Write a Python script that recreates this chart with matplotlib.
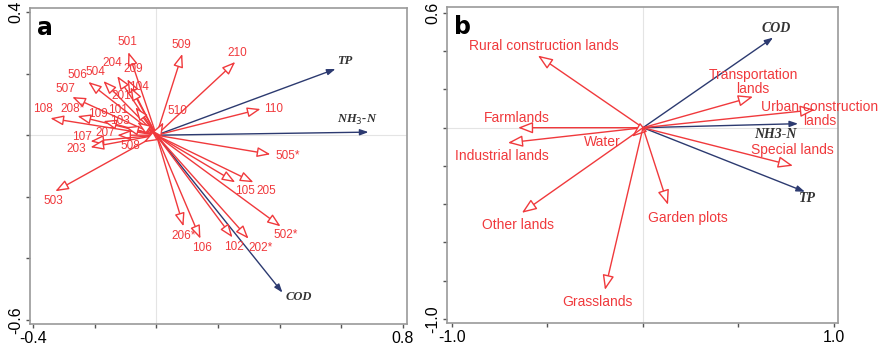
import matplotlib
matplotlib.use('Agg')
import matplotlib.pyplot as plt
import numpy as np

# panel a: sampling sites (species scores) and water quality variables
site_names = ['501', '509', '210', '110', '505*', '105', '205', '503', '502*', '206*',
              '106', '102', '202*', '204', '209', '506', '504', '104', '507', '201',
              '108', '208*', '109', '101', '103', '207', '107', '203', '508', '510']
site_x = [-0.091, 0.084, 0.256, 0.338, 0.370, 0.256, 0.315, -0.328, 0.403, 0.088,
          0.143, 0.247, 0.299, -0.127, -0.094, -0.221, -0.172, -0.084, -0.273, -0.068,
          -0.344, -0.256, -0.172, -0.062, -0.101, -0.127, -0.214, -0.214, -0.042, 0.023]
site_y = [0.270, 0.264, 0.238, 0.085, -0.062, -0.153, -0.153, -0.182, -0.296, -0.296,
          -0.336, -0.332, -0.336, 0.192, 0.182, 0.173, 0.176, 0.156, 0.124, 0.091,
          0.055, 0.062, 0.046, 0.042, 0.026, 0.000, -0.020, -0.039, -0.023, 0.042]
env_a_names = ['TP', r'NH$_3$-N', 'COD']
env_a_x = [0.581, 0.688, 0.409]
env_a_y = [0.215, 0.010, -0.511]

# panel b: land use types and water quality variables
land_names = ['Rural construction lands', 'Transportation\nlands', 'Urban construction\nlands',
              'Farmlands', 'Industrial lands', 'Water', 'Special lands', 'Other lands',
              'Garden plots', 'Grasslands']
land_x = [-0.550, 0.576, 0.900, -0.654, -0.707, -0.058, 0.785, -0.634, 0.131, -0.199]
land_y = [0.377, 0.162, 0.094, 0.000, -0.079, -0.047, -0.199, -0.445, -0.403, -0.848]
env_b_names = ['COD', 'NH3-N', 'TP']
env_b_x = [0.681, 0.812, 0.848]
env_b_y = [0.471, 0.021, -0.335]

# label offsets in pixels (layout only)
site_off = [(-1, 10), (-1, 9), (2, 9), (13, 0), (17, -2), (10, -9), (13, -9), (-2, -10), (5, -9), (0, -10),
            (2, -9), (1, -10), (12, -9), (-5, 13), (6, 10), (-11, 7), (-8, 9), (8, 0), (-7, 8), (-14, 11),
            (-7, 9), (-5, 7), (-5, 7), (-19, 12), (-5, 6), (-12, 2), (-8, 4), (-14, -2), (-13, -4), (14, 11)]
env_a_off = [(9, 8), (-11, 12), (16, -4)]
land_off = [(6, 10), (0, 15), (5, -4), (-1, 10), (-6, -13), (-30, -5), (-1, 16), (-4, -12), (20, -13), (-8, -12)]
env_b_off = [(3, 9), (-23, -11), (3, -7)]

RED = '#f0393c'
BLUE = '#2c3a70'
plt.rcParams['font.family'] = ['Liberation Sans', 'DejaVu Sans']

fig = plt.figure(figsize=(8.82, 3.5), dpi=100)
ax1 = fig.add_axes([30 / 882, 1 - 324 / 350, 377 / 882, 316 / 350])
ax2 = fig.add_axes([447 / 882, 1 - 323 / 350, 391 / 882, 316 / 350])


def draw_vectors(ax, xs, ys, names, offs, color, hollow, fs, serif=False, hl=0.7, hw=0.3):
    for x, y, name, off in zip(xs, ys, names, offs):
        if hollow:
            style = f'-|>,head_length={hl},head_width={hw}'
            props = dict(arrowstyle=style, color=RED, fc='white', lw=1.0, shrinkA=0, shrinkB=0)
        else:
            style = '-|>,head_length=0.5,head_width=0.18'
            props = dict(arrowstyle=style, color=color, fc=color, lw=1.0, shrinkA=0, shrinkB=0)
        ax.annotate('', xy=(x, y), xytext=(0, 0), arrowprops=props, zorder=3)
        if serif:
            ax.annotate(name, xy=(x, y), xytext=off, textcoords='offset pixels', ha='center', va='center',
                        fontsize=fs, color='#333333', family='Liberation Serif', style='italic',
                        weight='bold', annotation_clip=False)
        else:
            ax.annotate(name, xy=(x, y), xytext=off, textcoords='offset pixels', ha='center', va='center',
                        fontsize=fs, color=RED, linespacing=1.0, annotation_clip=False)


def style_axes(ax, xlim, ylim, xt, yt, letter):
    ax.set_xlim(*xlim)
    ax.set_ylim(*ylim)
    ax.axhline(0, color='#e4e4e4', lw=0.8, zorder=0)
    ax.axvline(0, color='#e4e4e4', lw=0.8, zorder=0)
    ax.set_xticks(xt)
    ax.set_xticklabels([f'{xt[0]:.1f}'] + [''] * (len(xt) - 2) + [f'{xt[-1]:.1f}'], fontsize=11.5)
    ax.set_yticks(yt)
    ax.set_yticklabels([f'{yt[0]:.1f}'] + [''] * (len(yt) - 2) + [f'{yt[-1]:.1f}'], fontsize=11.5,
                       rotation=90, va='center')
    ax.tick_params(length=3, width=1, color='#555555', pad=2)
    for s in ax.spines.values():
        s.set_color('#9a9a9a')
        s.set_linewidth(1.2)
    ax.text(0.018, 0.975, letter, transform=ax.transAxes, fontsize=17, weight='bold',
            ha='left', va='top', family='DejaVu Sans')


style_axes(ax1, (-0.41, 0.813), (-0.613, 0.413), np.arange(-0.4, 0.81, 0.2), np.arange(-0.6, 0.41, 0.2), 'a')
style_axes(ax2, (-1.026, 1.021), (-1.021, 0.631), np.arange(-1.0, 1.01, 0.5), np.arange(-1.0, 0.61, 0.2), 'b')

draw_vectors(ax1, env_a_x, env_a_y, env_a_names, env_a_off, BLUE, False, 9, serif=True)
draw_vectors(ax1, site_x, site_y, site_names, site_off, RED, True, 8.5, hl=0.8, hw=0.3)
draw_vectors(ax2, env_b_x, env_b_y, env_b_names, env_b_off, BLUE, False, 10, serif=True)
draw_vectors(ax2, land_x, land_y, land_names, land_off, RED, True, 10, hl=0.9, hw=0.35)

fig.savefig('out.png', dpi=100)
